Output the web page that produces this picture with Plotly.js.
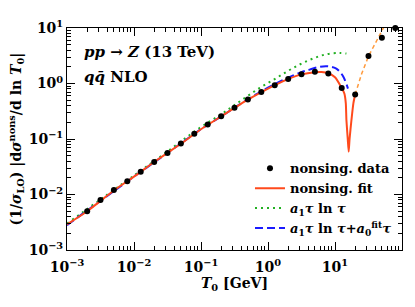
<!DOCTYPE html>
<html>
<head>
<meta charset="utf-8">
<script src="https://cdn.plot.ly/plotly-3.0.1.min.js"></script>
<style>html,body{margin:0;padding:0;background:#fff;}#chart{width:415px;height:307px;}</style>
</head>
<body>
<div id="chart"></div>
<script>
// nonsingular data points
const dataX = [0.002, 0.00316, 0.00501, 0.00794, 0.0126, 0.02, 0.0316, 0.0501, 0.0794, 0.126, 0.2, 0.316, 0.501, 0.794, 1.26, 2.0, 3.16, 5.01, 7.94, 12.6, 20.0, 31.6, 50.1, 79.4];
const dataY = [0.0050, 0.0080, 0.0120, 0.0174, 0.0256, 0.0387, 0.0562, 0.0834, 0.124, 0.183, 0.258, 0.364, 0.515, 0.706, 0.93, 1.21, 1.47, 1.62, 1.51, 0.83, 0.634, 3.13, 6.7, 9.98];
const dataErr = [0.00005, 0.00008, 0.0001, 0.0002, 0.0002, 0.0003, 0.0005, 0.0007, 0.001, 0.0015, 0.002, 0.003, 0.004, 0.005, 0.007, 0.009, 0.01, 0.012, 0.012, 0.01, 0.01, 0.03, 0.06, 0.1];

// nonsingular fit (solid)
const fitX = [0.001, 0.002, 0.005, 0.01, 0.02, 0.05, 0.1, 0.2, 0.5, 1.0, 2.0, 3.16, 5.0, 6.3, 7.94, 10.0, 12.6, 13.8, 14.5, 14.8, 15.5, 16.0, 16.5, 17.6, 18.8, 20.0];
const fitY = [0.0029, 0.0050, 0.0118, 0.021, 0.0385, 0.082, 0.15, 0.255, 0.51, 0.81, 1.2, 1.46, 1.6, 1.61, 1.53, 1.3, 0.83, 0.66, 0.44, 0.22, 0.1, 0.059, 0.1, 0.22, 0.44, 0.634];

// fit continuation (dashed orange)
const contX = [20.0, 25.0, 31.6, 40.0, 50.0, 56.0];
const contY = [0.634, 1.5, 3.1, 5.5, 9.0, 11.5];

// a1 tau ln tau (dotted green)
const lnX = [0.001, 0.01, 0.03, 0.095, 0.19, 0.3, 0.476, 0.752, 1.19, 1.88, 2.97, 4.7, 7.45, 11.7, 14.8];
const lnY = [0.0030, 0.022, 0.057, 0.158, 0.268, 0.391, 0.574, 0.834, 1.15, 1.62, 2.2, 2.82, 3.37, 3.55, 3.47];

// a1 tau ln tau + a0 tau (dashed blue)
const linX = [0.001, 0.01, 0.05, 0.1, 0.2, 0.5, 1.0, 2.0, 3.15, 4.19, 5.9, 7.4, 8.8, 10.3, 11.7, 13.2, 14.5, 15.6];
const linY = [0.0028, 0.021, 0.083, 0.15, 0.255, 0.52, 0.84, 1.28, 1.6, 1.78, 2.0, 2.05, 2.0, 1.88, 1.65, 1.35, 1.05, 0.81];

// axis ticks
const xTickVals = [0.001, 0.01, 0.1, 1, 10, 100];
const xTickText = ['10<sup>−3</sup>', '10<sup>−2</sup>', '10<sup>−1</sup>', '10<sup>0</sup>', '10<sup>1</sup>', '10<sup>2</sup>'];
const yTickVals = [0.001, 0.01, 0.1, 1, 10];
const yTickText = ['10<sup>−3</sup>', '10<sup>−2</sup>', '10<sup>−1</sup>', '10<sup>0</sup>', '10<sup>1</sup>'];

function minorVals(lo, hi) {
  const v = [];
  for (let e = lo; e < hi; e++) for (let m = 2; m <= 9; m++) v.push(m * Math.pow(10, e));
  return v;
}

const FONT = 'DejaVu Serif, serif';

const traces = [
  {x: contX, y: contY, mode: 'lines', line: {color: '#ff9a3c', width: 1.5, dash: '4px,3px'}, showlegend: false, hoverinfo: 'skip'},
  {x: lnX, y: lnY, mode: 'lines', line: {color: '#22b022', width: 2, dash: '2px,4px', shape: 'spline'}, name: '<i>a</i><sub>1</sub><i>τ</i> ln <i>τ</i>', legendrank: 3},
  {x: linX, y: linY, mode: 'lines', line: {color: '#1a1aff', width: 2, dash: '8px,4px', shape: 'spline'}, name: '<i>a</i><sub>1</sub><i>τ</i> ln <i>τ</i>+<i>a</i><sub>0</sub><sup>fit</sup><i>τ</i>', legendrank: 4},
  {x: fitX, y: fitY, mode: 'lines', line: {color: '#ff4a1c', width: 2, shape: 'spline', smoothing: 0.6}, name: 'nonsing. fit', legendrank: 2},
  {x: dataX, y: dataY, mode: 'markers', marker: {color: '#000', size: 6}, error_y: {type: 'data', array: dataErr, color: '#000', thickness: 1, width: 2}, cliponaxis: false, name: 'nonsing. data', legendrank: 1}
];

const axisCommon = {
  type: 'log', showgrid: false, zeroline: false,
  showline: true, linecolor: '#000', linewidth: 1, mirror: 'allticks',
  ticks: 'inside', ticklen: 8, tickcolor: '#000', tickwidth: 1,
  tickmode: 'array',
  tickfont: {family: FONT, size: 14, color: '#000', weight: 'bold'}
};

const layout = {
  width: 415, height: 307,
  margin: {l: 67, r: 13, t: 28, b: 57},
  paper_bgcolor: '#fff', plot_bgcolor: '#fff',
  font: {family: FONT, color: '#000'},
  showlegend: true,
  legend: {x: 0.985, xanchor: 'right', y: 0.03, yanchor: 'bottom', bgcolor: 'rgba(0,0,0,0)', itemwidth: 30,
           font: {family: FONT, size: 13, color: '#000', weight: 'bold'}, tracegroupgap: 0},
  xaxis: Object.assign({}, axisCommon, {
    range: [-3, 2], tickvals: xTickVals, ticktext: xTickText, ticklabelstandoff: 4,
    minor: {tickmode: 'array', tickvals: minorVals(-3, 2), ticks: 'inside', ticklen: 4, tickcolor: '#000', tickwidth: 1},
    title: {text: '<b><i>T</i><sub>0</sub> [GeV]</b>', font: {family: FONT, size: 14, color: '#000'}, standoff: 4}
  }),
  yaxis: Object.assign({}, axisCommon, {
    range: [-3, 1], tickvals: yTickVals, ticktext: yTickText,
    minor: {tickmode: 'array', tickvals: minorVals(-3, 1), ticks: 'inside', ticklen: 4, tickcolor: '#000', tickwidth: 1},
    title: {text: '<b>(1/<i>σ</i><sub>LO</sub>) |d<i>σ</i><sup>nons</sup>/d ln <i>T</i><sub>0</sub>|</b>', font: {family: FONT, size: 14, color: '#000'}, standoff: 3}
  }),
  annotations: [
    {xref: 'paper', yref: 'paper', x: 0.045, y: 0.89, xanchor: 'left', yanchor: 'middle', showarrow: false,
     text: '<b><i>pp</i> → <i>Z</i> (13 TeV)</b>', font: {family: FONT, size: 15, color: '#000'}},
    {xref: 'paper', yref: 'paper', x: 0.045, y: 0.778, xanchor: 'left', yanchor: 'middle', showarrow: false,
     text: '<b><i>q</i><i>q̄</i> NLO</b>', font: {family: FONT, size: 15, color: '#000'}}
  ]
};

Plotly.newPlot('chart', traces, layout, {displayModeBar: false, staticPlot: true});
</script>
</body>
</html>
